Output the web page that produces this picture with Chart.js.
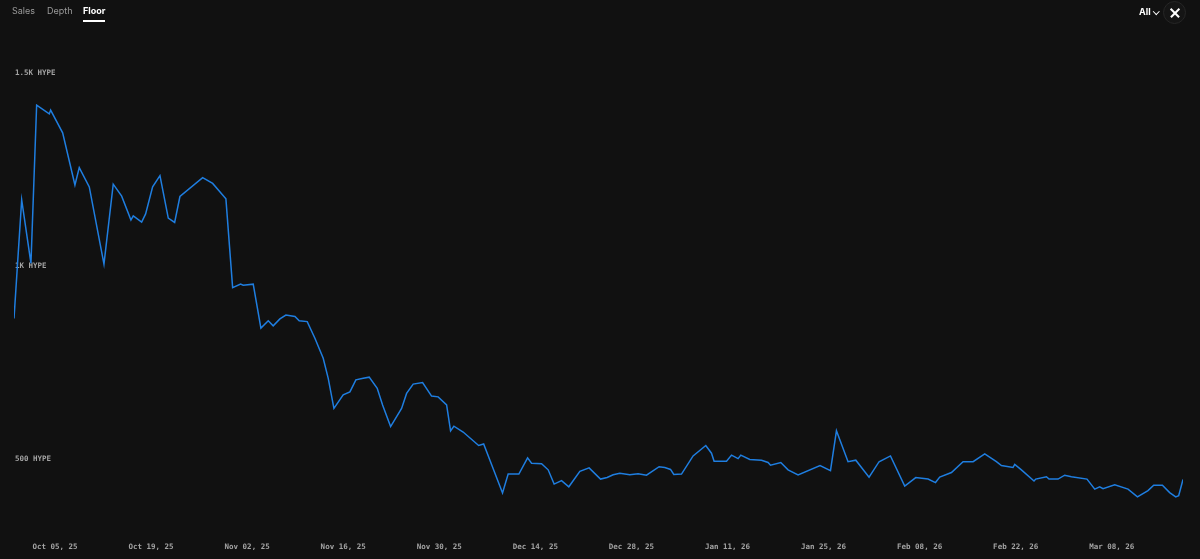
<!DOCTYPE html>
<html>
<head>
<meta charset="utf-8">
<script src="https://cdn.jsdelivr.net/npm/chart.js@4.4.1/dist/chart.umd.min.js"></script>
<style>
  html, body { margin:0; padding:0; background:#111111; width:1200px; height:559px; overflow:hidden; }
  #wrap { position:absolute; left:0; top:0; width:1200px; height:559px; }
  .tabs { position:absolute; left:12px; top:5px; font-family:Inter, "Noto Sans", sans-serif; font-size:9px; color:#9a9a9a; }
  .tab { position:absolute; top:0; white-space:nowrap; }
  .tab.active { color:#ffffff; font-weight:700; }
  .tab.active:after { content:""; position:absolute; left:0; right:0; top:15px; height:2px; background:#ffffff; }
  .all { position:absolute; left:1139px; top:6px; font-family:Inter, "Noto Sans", sans-serif; font-size:9px; font-weight:700; color:#fff; }
  .chev { position:absolute; left:1154px; top:9px; width:3.5px; height:3.5px; border-right:1.3px solid #fff; border-bottom:1.3px solid #fff; transform:rotate(45deg); }
  .close { position:absolute; left:1163px; top:1px; width:23px; height:23px; border-radius:50%; background:#151515; border:1px solid #262626; box-sizing:border-box; }
  .close:before, .close:after { content:""; position:absolute; left:4.5px; top:10px; width:12px; height:1.6px; background:#fff; }
  .close:before { transform:rotate(45deg); }
  .close:after { transform:rotate(-45deg); }
</style>
</head>
<body>
<div id="wrap"><canvas id="c" width="1200" height="559"></canvas></div>
<div class="tabs">
  <span class="tab" style="left:0">Sales</span>
  <span class="tab" style="left:35px">Depth</span>
  <span class="tab active" style="left:71px">Floor</span>
</div>
<div class="all">All</div>
<div class="chev"></div>
<div class="close"></div>
<script>
// Days relative to Oct 05, 2025 (fractional, irregular sample times)
const floorDays = [-5.97,-4.85,-3.50,-2.67,-0.83,-0.63,1.12,2.91,3.54,5.00,7.14,8.49,9.72,11.07,11.41,12.63,13.21,14.23,15.30,16.51,17.44,18.21,21.52,22.98,24.91,25.89,27.05,27.43,28.89,30.01,31.08,31.80,32.78,33.65,34.97,35.59,36.76,37.88,39.09,39.82,40.65,42.00,42.98,43.85,44.92,45.79,46.96,47.74,48.91,50.51,51.24,52.20,53.57,54.88,55.84,57.07,57.65,58.13,59.48,61.74,62.47,65.22,66.04,67.60,68.87,69.45,70.91,71.87,72.74,73.82,74.88,76.49,77.84,79.50,80.46,81.34,82.31,83.77,84.98,86.20,88.04,88.87,89.70,90.18,91.30,92.99,94.84,95.67,96.05,97.86,98.59,99.55,99.94,101.25,102.96,103.92,104.27,105.77,106.83,108.29,111.49,113.01,113.88,115.57,116.70,118.63,120.09,121.75,123.83,125.44,127.23,128.31,128.93,130.64,132.33,133.79,135.49,137.19,137.92,139.61,139.86,140.83,142.67,142.92,144.48,144.86,146.17,147.14,148.12,150.39,151.52,152.24,152.73,154.43,156.37,157.74,159.28,160.11,161.38,162.44,163.32,163.75,164.38];
// Floor price in HYPE
const floorValues = [864,1171,1007,1417,1394,1404,1345,1210,1255,1205,1005,1212,1181,1119,1130,1114,1135,1205,1234,1124,1113,1180,1229,1214,1174,944,953,950,953,839,858,845,863,873,869,858,856,813,761,709,631,666,674,705,709,712,683,640,584,631,670,694,698,663,661,640,573,585,570,535,539,412,461,461,503,489,488,472,435,444,428,468,477,448,452,459,463,459,462,458,480,478,473,460,461,508,535,515,494,494,510,501,510,499,497,491,484,491,472,459,483,470,573,493,497,453,493,508,430,452,448,439,453,465,493,493,513,493,483,478,486,472,443,448,454,448,448,458,454,448,422,428,423,433,422,402,418,432,432,413,402,405,447];

const xTickDays = [0,14,28,42,56,70,84,98,112,126,140,154];
const xTickLabels = ["Oct 05, 25","Oct 19, 25","Nov 02, 25","Nov 16, 25","Nov 30, 25","Dec 14, 25","Dec 28, 25","Jan 11, 26","Jan 25, 26","Feb 08, 26","Feb 22, 26","Mar 08, 26"];
const yTickValues = [500,1000,1500];
const yTickLabels = ["500 HYPE","1K HYPE","1.5K HYPE"];

const points = floorDays.map((d, i) => ({ x: d, y: floorValues[i] }));
const tickFont = { family: "'DejaVu Sans Mono', monospace", size: 7.5, weight: 'bold' };

new Chart(document.getElementById('c'), {
  type: 'line',
  data: { datasets: [{ data: points, borderColor: '#1f7ee0', borderWidth: 1.5, pointRadius: 0, tension: 0, fill: false }] },
  options: {
    responsive: false, animation: false, events: [],
    layout: { padding: { left: 14, right: 17, top: 40, bottom: 0 } },
    plugins: { legend: { display: false }, tooltip: { enabled: false } },
    scales: {
      x: {
        type: 'linear', min: floorDays[0], max: floorDays[floorDays.length - 1],
        grid: { display: false, drawTicks: false }, border: { display: false },
        afterBuildTicks: s => { s.ticks = xTickDays.map(v => ({ value: v })); },
        afterFit: s => { s.height = 39; },
        ticks: { color: '#a4a4a4', font: tickFont, padding: 23, maxRotation: 0, autoSkip: false,
          callback: v => { const i = xTickDays.indexOf(v); return i >= 0 ? xTickLabels[i] : ''; } }
      },
      y: {
        min: 342, max: 1585.5, z: 1,
        grid: { display: false, drawTicks: false }, border: { display: false },
        afterBuildTicks: s => { s.ticks = yTickValues.map(v => ({ value: v })); },
        afterFit: s => { s.width = 0; },
        ticks: { mirror: true, padding: 1, color: '#a4a4a4', font: tickFont,
          callback: v => { const i = yTickValues.indexOf(v); return i >= 0 ? yTickLabels[i] : ''; } }
      }
    }
  }
});
</script>
</body>
</html>
